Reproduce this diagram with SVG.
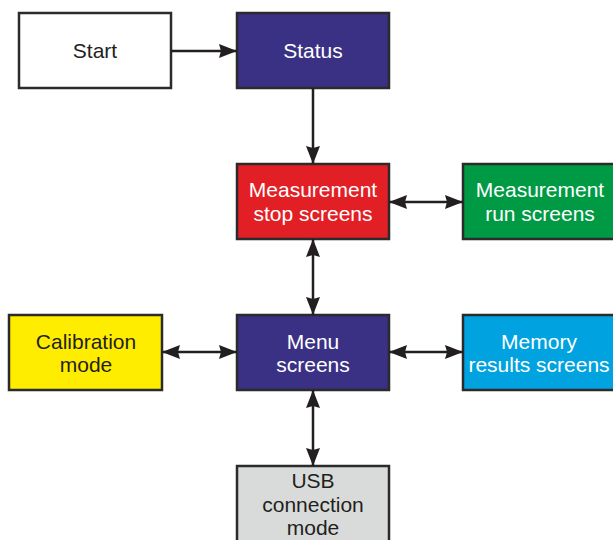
<svg xmlns="http://www.w3.org/2000/svg" width="613" height="540" viewBox="0 0 613 540">
<style>
.box{stroke:#2b2b2b;stroke-width:2.5}
.t{font-family:"Liberation Sans",Arial,sans-serif;font-size:21px;text-anchor:middle}
.w{fill:#ffffff}
.d{fill:#231f20}
.c{stroke:#231f20;stroke-width:2.5;fill:none}
</style>
<defs>
<marker id="ah" viewBox="0 0 18 14" refX="18" refY="7" markerWidth="18" markerHeight="14" markerUnits="userSpaceOnUse" orient="auto-start-reverse">
<path d="M0,0 L18,7 L0,14 L2,7 Z" fill="#231f20"/>
</marker>
</defs>
<rect width="613" height="540" fill="#ffffff"/>
<g id="start"><rect class="box" x="19" y="13" width="152" height="75" fill="#ffffff"/><text class="t d" x="95" y="58">Start</text></g>
<g id="status"><rect class="box" x="237" y="13" width="152" height="75" fill="#3a3185"/><text class="t w" x="313" y="58">Status</text></g>
<g id="mstop"><rect class="box" x="237" y="164" width="152" height="75" fill="#e31f26"/><text class="t w" x="313" y="197">Measurement</text><text class="t w" x="313" y="221">stop screens</text></g>
<g id="mrun"><rect class="box" x="463" y="164" width="154" height="75" fill="#009a44"/><text class="t w" x="540" y="197">Measurement</text><text class="t w" x="540" y="221">run screens</text></g>
<g id="calib"><rect class="box" x="9" y="315" width="153" height="75" fill="#ffed00"/><text class="t d" x="86" y="349">Calibration</text><text class="t d" x="86" y="372">mode</text></g>
<g id="menu"><rect class="box" x="237" y="315" width="152" height="75" fill="#3a3185"/><text class="t w" x="313" y="349">Menu</text><text class="t w" x="313" y="372">screens</text></g>
<g id="memory"><rect class="box" x="463" y="315" width="154" height="75" fill="#00a3e0"/><text class="t w" x="539" y="349">Memory</text><text class="t w" x="539" y="372">results screens</text></g>
<g id="usb"><rect class="box" x="237" y="466" width="152" height="80" fill="#d9dbda"/><text class="t d" x="313" y="488">USB</text><text class="t d" x="313" y="512">connection</text><text class="t d" x="313" y="535">mode</text></g>
<g id="connectors">
<line class="c" x1="171" y1="51" x2="237" y2="51" marker-end="url(#ah)"/>
<line class="c" x1="313" y1="88" x2="313" y2="164" marker-end="url(#ah)"/>
<line class="c" x1="389" y1="202" x2="463" y2="202" marker-start="url(#ah)" marker-end="url(#ah)"/>
<line class="c" x1="313" y1="239" x2="313" y2="315" marker-start="url(#ah)" marker-end="url(#ah)"/>
<line class="c" x1="162" y1="352" x2="237" y2="352" marker-start="url(#ah)" marker-end="url(#ah)"/>
<line class="c" x1="389" y1="352" x2="463" y2="352" marker-start="url(#ah)" marker-end="url(#ah)"/>
<line class="c" x1="313" y1="390" x2="313" y2="466" marker-start="url(#ah)" marker-end="url(#ah)"/>
</g>
</svg>
